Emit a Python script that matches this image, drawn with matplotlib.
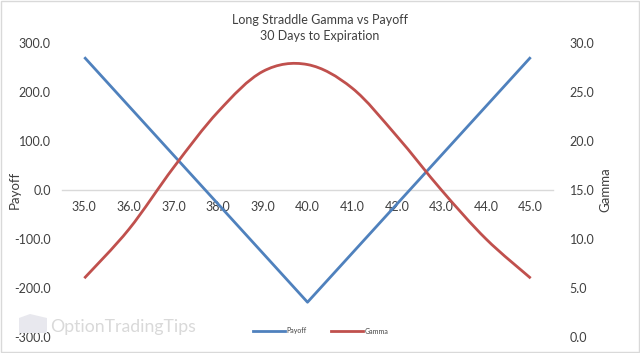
import matplotlib
matplotlib.use("Agg")
import matplotlib.pyplot as plt
from matplotlib.path import Path
from matplotlib.patches import PathPatch, Rectangle, Polygon
from matplotlib.lines import Line2D
import numpy as np

plt.rcParams['font.family'] = ['Lato', 'DejaVu Sans']

strikes = ["35.0", "36.0", "37.0", "38.0", "39.0", "40.0", "41.0", "42.0", "43.0", "44.0", "45.0"]
payoff = [271, 171, 71, -29, -129, -229, -129, -29, 71, 171, 271]
gamma = [6.0, 11.0, 17.3, 23.0, 27.1, 27.8, 25.4, 20.5, 15.0, 10.0, 6.0]
left_ticks = [-300, -200, -100, 0, 100, 200, 300]
right_ticks = [0, 5, 10, 15, 20, 25, 30]

BLUE = "#4F81BD"
RED = "#C0504D"
TXT = "#404040"

fig = plt.figure(figsize=(6.4, 3.53), dpi=100)
ax = fig.add_axes([62/640, 1-337/353, 491/640, 294/353])
ax2 = ax.twinx()

x = np.arange(len(strikes))

ax.plot(x, payoff, color=BLUE, lw=2.0, solid_capstyle='butt', zorder=3)
ax.set_ylim(-300, 300)
ax.set_xlim(-0.5, len(strikes) - 0.5)
ax.set_yticks(left_ticks)
ax.set_yticklabels([f"{v:.1f}" for v in left_ticks])
ax.set_xticks(x)
ax.set_xticklabels(strikes)

# smooth curve (Excel-like bezier smoothing) through gamma points
def smooth_path(xs, ys):
    pts = np.column_stack([xs, ys]).astype(float)
    n = len(pts)
    verts = [pts[0]]
    codes = [Path.MOVETO]
    for i in range(n - 1):
        p0 = pts[i - 1] if i > 0 else pts[i]
        p1 = pts[i]
        p2 = pts[i + 1]
        p3 = pts[i + 2] if i + 2 < n else pts[i + 1]
        c1 = p1 + (p2 - p0) / 6.0
        c2 = p2 - (p3 - p1) / 6.0
        verts += [c1, c2, p2]
        codes += [Path.CURVE4] * 3
    return Path(verts, codes)

ax2.add_patch(PathPatch(smooth_path(x, gamma), facecolor='none', edgecolor=RED,
                        lw=2.0, zorder=3, capstyle='butt'))
ax2.set_ylim(0, 30)
ax2.set_yticks(right_ticks)
ax2.set_yticklabels([f"{v:.1f}" for v in right_ticks])

for a in (ax, ax2):
    for s in ['top', 'left', 'right', 'bottom']:
        a.spines[s].set_visible(False)
    a.tick_params(length=0, labelsize=9, labelcolor=TXT)

ax.spines['bottom'].set_visible(True)
ax.spines['bottom'].set_position(('data', 0))
ax.spines['bottom'].set_color('#d9d9d9')
ax.spines['bottom'].set_linewidth(1.0)
ax.spines['bottom'].set_zorder(1)
ax.tick_params(axis='x', pad=8)
ax.tick_params(axis='y', pad=8)
ax2.tick_params(axis='y', pad=12)

ax.set_ylabel("Payoff", fontsize=9.5, color=TXT)
ax2.set_ylabel("Gamma", fontsize=9.5, color=TXT)
ax.yaxis.set_label_coords(-0.085, 0.5)
ax2.yaxis.set_label_coords(1.095, 0.5)

fig.text(320/640, 1-20/353, "Long Straddle Gamma vs Payoff", ha='center', va='center',
         fontsize=9, color=TXT)
fig.text(320/640, 1-36/353, "30 Days to Expiration", ha='center', va='center',
         fontsize=9, color=TXT)

# watermark
fig.text(50/640, 1-327/353, "OptionTradingTips", ha='left', va='center',
         fontsize=12.7, color='#d9d9d9', zorder=0)
fig.patches.append(Polygon([(19/640, 1-333/353), (19/640, 1-318/353), (30/640, 1-314/353),
                            (47/640, 1-318/353), (47/640, 1-333/353)], closed=True,
                           transform=fig.transFigure, facecolor='#e8e8ee',
                           edgecolor='none', zorder=0))

# legend
leg_handles = [Line2D([0], [0], color=BLUE, lw=2.0), Line2D([0], [0], color=RED, lw=2.0)]
fig.legend(leg_handles, ["Payoff", "Gamma"], loc='center', bbox_to_anchor=(321/640, 1-331/353),
           ncol=2, frameon=False, fontsize=5, handlelength=4.5, handletextpad=0.3,
           columnspacing=3.5, labelcolor=TXT)

# border
fig.patches.append(Rectangle((0.001, 0.002), 0.997, 0.995, transform=fig.transFigure,
                             facecolor='none', edgecolor='#d9d9d9', lw=1.0, zorder=5))

fig.savefig("out.png", dpi=100)
